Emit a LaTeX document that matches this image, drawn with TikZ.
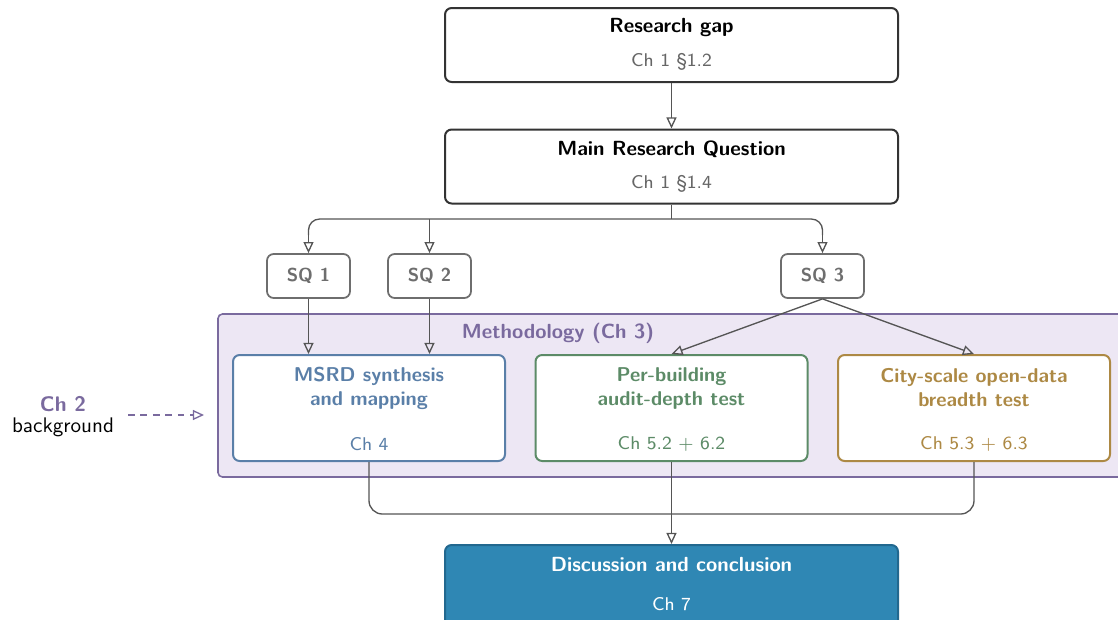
\documentclass[tikz,border=0pt]{standalone}
\usetikzlibrary{arrows.meta}
\renewcommand{\familydefault}{\sfdefault}
\definecolor{edgegray}{HTML}{555555}
\definecolor{sqgray}{HTML}{6E6E6E}
\definecolor{subgray}{HTML}{666666}
\definecolor{methpurple}{HTML}{7A6A9E}
\definecolor{methfill}{HTML}{EDE7F4}
\definecolor{msrdblue}{HTML}{5A7FA8}
\definecolor{auditgreen}{HTML}{5C8B67}
\definecolor{citygold}{HTML}{AD8944}
\definecolor{discfill}{HTML}{2F87B4}
\definecolor{discedge}{HTML}{22688F}
\tikzset{
  x=0.45pt, y=-0.45pt,
  box/.style 2 args={draw, rounded corners=3pt, inner sep=0pt,
    minimum width={#1*0.45pt}, minimum height={#2*0.45pt}},
  topbox/.style={box={453}{74}, draw=black!80, line width=0.9pt, fill=white},
  sqbox/.style={box={83}{44}, draw=sqgray, line width=0.8pt, fill=white,
    text=sqgray, font=\fontsize{8.4}{10}\selectfont\bfseries},
  methbox/.style={box={272}{106}, line width=0.9pt, fill=white},
  title/.style={font=\fontsize{9.2}{11}\selectfont\bfseries, align=center, inner sep=0pt},
  mtitle/.style={font=\fontsize{9}{10.8}\selectfont\bfseries, align=center, inner sep=0pt},
  sub/.style={text=subgray, inner sep=0pt, font=\fontsize{8.3}{10}\selectfont},
  edge/.style={draw=edgegray, line width=0.6pt},
  arr/.style={edge, -{Triangle[open, length=5pt, width=4.5pt]}},
}
\begin{document}
\begin{tikzpicture}
\useasboundingbox (0,0) rectangle (1118,619);
\clip (0,0) rectangle (1118,619);

% methodology band
\node[draw=methpurple, fill=methfill, line width=0.7pt, rounded corners=2pt,
  minimum width={912*0.45pt}, minimum height={163*0.45pt}, inner sep=0pt]
  (meth) at (674,395.5) {};
\node[title, text=methpurple] (methlbl) at (558,333) {Methodology (Ch 3)};

% research gap and main question
\node[topbox] (gap) at (671.5,45) {};
\node[title] (gapt) at (671.5,28) {Research gap};
\node[sub] (gaps) at (671.5,62) {Ch 1 \S1.2};
\node[topbox] (mrq) at (671.5,166.5) {};
\node[title] (mrqt) at (671.5,149) {Main Research Question};
\node[sub] (mrqs) at (671.5,184) {Ch 1 \S1.4};

% sub-questions
\node[sqbox] (sq1) at (308.5,276) {SQ 1};
\node[sqbox] (sq2) at (429.5,276) {SQ 2};
\node[sqbox] (sq3) at (822.5,276) {SQ 3};

% method boxes
\node[methbox, draw=msrdblue] (msrd) at (369,408) {};
\node[mtitle, text=msrdblue] (msrdt) at (369,388) {MSRD synthesis\\[0pt]and mapping};
\node[sub, text=msrdblue] (msrds) at (369,444) {Ch 4};
\node[methbox, draw=auditgreen] (audit) at (671.5,408) {};
\node[mtitle, text=auditgreen] (auditt) at (671.5,388) {Per-building\\[0pt]audit-depth test};
\node[sub, text=auditgreen] (audits) at (671.5,444) {Ch 5.2 + 6.2};
\node[methbox, draw=citygold] (city) at (974,408) {};
\node[mtitle, text=citygold] (cityt) at (974,388) {City-scale open-data\\[0pt]breadth test};
\node[sub, text=citygold] (citys) at (974,444) {Ch 5.3 + 6.3};

% discussion
\node[box={453}{82}, draw=discedge, fill=discfill, line width=0.9pt] (disc) at (671.5,586) {};
\node[title, text=white] (disct) at (671.5,565) {Discussion and conclusion};
\node[sub, text=white] (discs) at (671.5,604) {Ch 7};

% background chapter
\node[title, text=methpurple, font=\fontsize{9.5}{11}\selectfont\bfseries] (ch2) at (63,404) {Ch 2};
\node[inner sep=0pt, font=\fontsize{9.5}{11}\selectfont] (bg) at (63,427) {background};
\coordinate (bgtip) at (204,415);
\draw[arr, draw=methpurple, dash pattern=on 3pt off 2.6pt] (128,415) -- (bgtip);

% connectors
\draw[arr] (gap.south) -- (mrq.north);
\coordinate (fan) at (671.5,219);
\draw[edge] (mrq.south) -- (fan);
\draw[edge, rounded corners=5pt] (308.5,235) -- (308.5,219) -- (822.5,219) -- (822.5,235);
\draw[arr] (308.5,232) -- (sq1.north);
\draw[arr] (822.5,232) -- (sq3.north);
\draw[arr] (429.5,219) -- (sq2.north);

\draw[arr] (sq1.south) -- (sq1.south |- msrd.north);
\draw[arr] (sq2.south) -- (sq2.south |- msrd.north);
\draw[arr] (sq3.south) -- (audit.north);
\draw[arr] (sq3.south) -- (city.north);

\draw[edge, rounded corners=6pt] (msrd.south) -- (369,514) -- (974,514) -- (city.south);
\draw[arr] (audit.south) -- (disc.north);
\end{tikzpicture}
\end{document}
